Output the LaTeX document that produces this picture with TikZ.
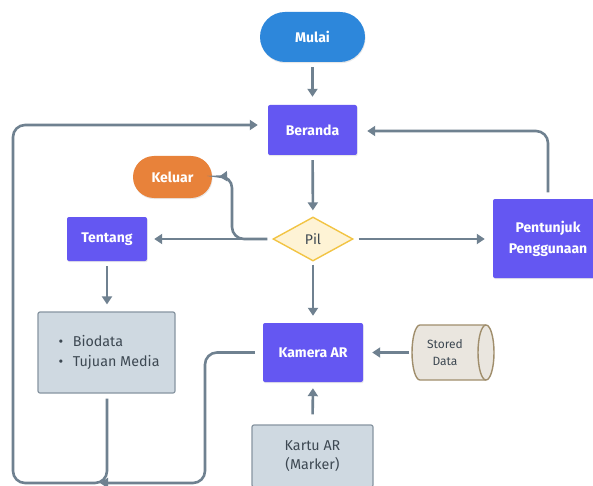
\documentclass[tikz,border=0pt]{standalone}
\usepackage{fontspec}
\setmainfont{Fira Sans}
\usetikzlibrary{shapes.geometric,shapes.misc,arrows.meta,shadows}
\definecolor{linec}{HTML}{6F8190}
\definecolor{mulaic}{HTML}{2D87DB}
\definecolor{purplec}{HTML}{6457F2}
\definecolor{orangec}{HTML}{E8823A}
\definecolor{dfill}{HTML}{FEF3D5}
\definecolor{dline}{HTML}{F2C444}
\definecolor{gfill}{HTML}{CFD9E1}
\definecolor{gline}{HTML}{8795A1}
\definecolor{cfill}{HTML}{EAE6DF}
\definecolor{cline}{HTML}{A08E6C}
\definecolor{gtext}{HTML}{3D4852}
\tikzset{
  shadowed/.style={drop shadow={opacity=0.18,shadow xshift=0.6pt,shadow yshift=-1.2pt}},
  pill/.style={rounded rectangle, shadowed, text=white, font=\bfseries\fontsize{14}{16}\selectfont, inner sep=0pt},
  pbox/.style={rectangle, rounded corners=2pt, fill=purplec, shadowed, text=white, font=\bfseries\fontsize{14}{21}\selectfont, align=center, inner sep=0pt},
  gbox/.style={rectangle, rounded corners=2pt, fill=gfill, draw=gline, line width=1.2pt, text=gtext, font=\fontsize{14.3}{19.5}\selectfont, align=center, inner sep=0pt},
  conn/.style={draw=linec, line width=2.6pt, -{Triangle[length=8pt,width=10pt]}, rounded corners=12pt},
}
\begin{document}
\begin{tikzpicture}[x=1pt,y=-1pt]
\useasboundingbox[fill=white] (0,0) rectangle (593,486);

\node[pill, fill=mulaic, minimum width=105, minimum height=50] (mulai) at (312.5,37) {Mulai};
\node[pbox, minimum width=89, minimum height=50] (beranda) at (312.5,130) {Beranda};
\node[pill, fill=orangec, minimum width=79, minimum height=42] (keluar) at (172.5,177) {Keluar};
\node[diamond, aspect=1.8, fill=dfill, draw=dline, line width=1.4pt, minimum width=80, minimum height=44, inner sep=0pt, text=gtext, font=\fontsize{14}{16}\selectfont] (pil) at (313,239) {Pil};
\node[pbox, minimum width=80, minimum height=44] (tentang) at (107,239) {Tentang};
\node[pbox, minimum width=110, minimum height=79] (pent) at (548,238.5) {Pentunjuk\\Penggunaan};
\node[gbox, minimum width=137, minimum height=81] (bio) at (106.5,352.5) {};
\node[anchor=west, align=left, text=gtext, font=\fontsize{14.3}{20}\selectfont, inner sep=0pt] (biotext) at (58.5,352.5) {\textbullet\hspace{9.5pt}Biodata\\\textbullet\hspace{9.5pt}Tujuan Media};
\node[pbox, minimum width=100, minimum height=59] (kamera) at (313,352.5) {Kamera AR};
% cylinder drawn directly
\path[fill=cfill, draw=cline, line width=1.4pt]
  (420,325) -- (486,325) arc(-90:90:8 and 27.5) -- (420,380) arc(90:270:8 and 27.5) -- cycle;
\draw[cline, line width=1.4pt] (486,325) arc(-90:-270:8 and 27.5);
\coordinate (stored) at (453,352.5);
\coordinate (storedW) at (412,352.5);
\node[text=gtext, font=\fontsize{12}{17}\selectfont, align=center, inner sep=0pt] (storedtext) at (445,352.5) {Stored\\Data};
\node[gbox, minimum width=121, minimum height=62] (kartu) at (312.5,456) {Kartu AR\\(Marker)};

\coordinate (c1) at (232,239);
\coordinate (c2) at (232,176);
\coordinate (r1) at (548,131);
\coordinate (b1) at (107,483);
\coordinate (l1) at (13,483);
\coordinate (l2) at (13,125);
\coordinate (k1) at (205,352.5);
\coordinate (k2) at (205,483);
\coordinate (k3) at (100,483);

\draw[conn, shorten <=5pt, shorten >=8pt] (mulai) -- (beranda);
\draw[conn, shorten <=5pt, shorten >=6pt] (beranda) -- (pil);
\draw[conn, shorten <=5pt, shorten >=7pt] (pil.west) -- (tentang.east);
\draw[conn, shorten <=5pt, shorten >=7pt] (pil.west) -- (c1) -- (c2) -- (keluar.east);
\draw[conn, shorten <=5pt, shorten >=8pt] (pil.east) -- (pent.west |- pil.east);
\draw[conn, shorten <=6pt, shorten >=10pt] (pent.north |- 0,198.5) -- (r1) -- (beranda.east |- r1);
\draw[conn, shorten <=3pt, shorten >=7pt] (pil.south) -- (kamera.north);
\draw[conn, shorten <=5pt, shorten >=7pt] (tentang.south) -- (bio.north -| tentang.south);
\draw[conn, shorten <=3pt, shorten >=9pt] (storedW) -- (kamera.east);
\draw[conn, shorten <=10pt, shorten >=6pt] (kartu.north) -- (kamera.south);
\draw[conn, shorten <=5pt, shorten >=10pt] (bio.south -| b1) -- (b1) -- (l1) -- (l2) -- (beranda.west |- l2);
\draw[conn, shorten <=8pt] (kamera.west) -- (k1) -- (k2) -- (k3);
\end{tikzpicture}
\end{document}
